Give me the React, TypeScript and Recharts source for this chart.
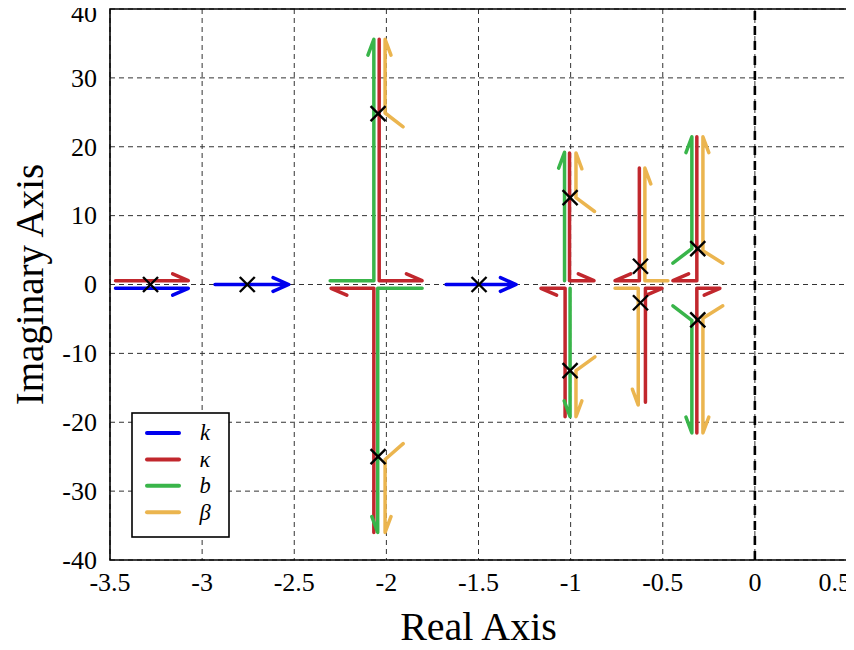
import React from 'react';
import {
  ComposedChart,
  Line,
  Scatter,
  XAxis,
  YAxis,
  CartesianGrid,
  ReferenceLine,
  ReferenceArea,
  Legend,
} from 'recharts';

// ---------- data ----------
const X_TICKS = [-3.5, -3, -2.5, -2, -1.5, -1, -0.5, 0, 0.5];
const Y_TICKS = [-40, -30, -20, -10, 0, 10, 20, 30, 40];

const SERIES_NAMES = ['k', 'κ', 'b', 'β'];
const SERIES_COLORS = ['#0000EE', '#C1272D', '#39B54A', '#EBB54F'];

// each path: list of [real, imag] points (arrow shaft + arrow barbs)
const K_PATHS: number[][][] = [
  [[-3.47, -0.55], [-3.075, -0.55], [-3.16, -1.55]],
  [[-2.93, 0], [-2.53, 0], [-2.615, 1.0], [-2.53, 0], [-2.615, -1.0]],
  [[-1.676, 0], [-1.296, 0], [-1.381, 1.0], [-1.296, 0], [-1.381, -1.0]],
];

const KAPPA_PATHS: number[][][] = [
  [[-3.47, 0.55], [-3.075, 0.55], [-3.16, 1.55]],
  [[-2.039, 35.6], [-2.039, 0.55], [-1.806, 0.55], [-1.891, 1.55]],
  [[-2.068, -36], [-2.068, -0.55], [-2.3, -0.55], [-2.215, -1.55]],
  [[-1.006, 19.1], [-1.006, 0.55], [-0.873, 0.55], [-0.958, 1.55]],
  [[-1.03, -19.2], [-1.03, -0.55], [-1.161, -0.55], [-1.076, -1.55]],
  [[-0.627, 16.9], [-0.627, 0.55], [-0.759, 0.55], [-0.674, 1.55]],
  [[-0.594, -17.1], [-0.594, -0.55], [-0.504, -0.55], [-0.589, -1.55]],
  [[-0.315, 21.45], [-0.315, 0.55], [-0.445, 0.55], [-0.36, 1.55]],
  [[-0.315, -21.55], [-0.315, -0.55], [-0.19, -0.55], [-0.275, -1.55]],
];

const B_PATHS: number[][][] = [
  [[-2.305, 0.55], [-2.068, 0.55], [-2.068, 35.6], [-2.1, 33.3]],
  [[-1.806, -0.55], [-2.047, -0.55], [-2.047, -36], [-2.079, -33.7]],
  [[-1.033, 0.55], [-1.033, 19.2], [-1.065, 16.9]],
  [[-1.003, -0.55], [-1.003, -19.2], [-1.035, -16.9]],
  [[-0.445, 3.1], [-0.342, 5.2], [-0.342, 21.45], [-0.374, 19.15]],
  [[-0.445, -3.1], [-0.342, -5.2], [-0.342, -21.55], [-0.374, -19.25]],
];

const BETA_PATHS: number[][][] = [
  [[-1.909, 22.9], [-2.007, 24.9], [-2.007, 35.6], [-1.975, 33.3]],
  [[-1.909, -23.1], [-2.007, -25.4], [-2.007, -36], [-1.975, -33.7]],
  [[-0.87, 10.6], [-0.971, 12.6], [-0.971, 19.1], [-0.939, 16.8]],
  [[-0.868, -10.5], [-0.971, -12.5], [-0.971, -19.2], [-0.939, -16.9]],
  [[-0.472, 0.55], [-0.597, 0.55], [-0.597, 16.9], [-0.565, 14.6]],
  [[-0.759, -0.55], [-0.633, -0.55], [-0.633, -17.5], [-0.665, -15.2]],
  [[-0.174, 3.1], [-0.282, 4.9], [-0.282, 21.45], [-0.25, 19.15]],
  [[-0.174, -3.1], [-0.282, -4.9], [-0.282, -21.55], [-0.25, -19.25]],
];

const POLES: number[][] = [
  [-3.28, 0],
  [-2.755, 0],
  [-2.045, 24.8],
  [-2.045, -25],
  [-1.497, 0],
  [-1.003, 12.6],
  [-1.003, -12.5],
  [-0.621, 2.65],
  [-0.621, -2.65],
  [-0.31, 5.2],
  [-0.31, -5.15],
];

const ALL_PATHS = [K_PATHS, KAPPA_PATHS, B_PATHS, BETA_PATHS];

const toPts = (p: number[][]) => p.map(([x, y]) => ({ x, y }));

const FONT = 'Liberation Serif';

const XTick = (props: any) => {
  const { x, y, payload } = props;
  const v = payload.value;
  let anchor: 'middle' | 'end' = 'middle';
  let tx = x;
  if (v === 0.5) {
    anchor = 'end';
    tx = 851;
  }
  return (
    <text x={tx} y={y} dy="0.72em" textAnchor={anchor} fontFamily={FONT} fontSize={26} fill="#000">
      {String(v)}
    </text>
  );
};

const YTick = (props: any) => {
  const { x, y, payload } = props;
  const ty = payload.value === 40 ? y + 4 : y;
  return (
    <text x={x} y={ty} dy="0.34em" textAnchor="end" fontFamily={FONT} fontSize={26} fill="#000">
      {String(payload.value)}
    </text>
  );
};

const XMarker = (props: any) => {
  const { cx, cy } = props;
  if (cx == null || cy == null) return <g />;
  const s = 7.5;
  return (
    <g stroke="#000" strokeWidth={2.4}>
      <line x1={cx - s} y1={cy - s} x2={cx + s} y2={cy + s} />
      <line x1={cx - s} y1={cy + s} x2={cx + s} y2={cy - s} />
    </g>
  );
};

const LegendBox = () => (
  <svg width={100} height={127} style={{ display: 'block' }}>
    <rect x={1} y={1} width={97} height={124} fill="#fff" stroke="#000" strokeWidth={1.6} />
    {SERIES_NAMES.map((n, i) => {
      const y = 21 + i * 26.4;
      return (
        <g key={n}>
          <line x1={16} x2={48} y1={y} y2={y} stroke={SERIES_COLORS[i]} strokeWidth={4} strokeLinecap="round" />
          <text
            x={74}
            y={y}
            dy="0.33em"
            textAnchor="middle"
            fontFamily={FONT}
            fontStyle="italic"
            fontSize={22.5}
            fill="#000"
          >
            {n}
          </text>
        </g>
      );
    })}
  </svg>
);

export default function App() {
  return (
    <div style={{ margin: -8, background: '#fff', width: 854, height: 650, fontFamily: FONT }}>
      <ComposedChart
        width={854}
        height={650}
        margin={{ top: 9, right: 7, bottom: 0, left: 0 }}
        style={{ fontFamily: FONT }}
      >
        <CartesianGrid stroke="#333" strokeDasharray="5 4" strokeWidth={1} />
        <XAxis
          type="number"
          dataKey="x"
          domain={[-3.5, 0.5]}
          ticks={X_TICKS}
          allowDataOverflow
          height={90}
          axisLine={false}
          tickLine={false}
          tickMargin={6}
          tick={XTick}
          label={{
            value: 'Real Axis',
            position: 'insideBottom',
            offset: 10,
            style: { fontSize: 40, fill: '#000', fontFamily: FONT },
          }}
        />
        <YAxis
          type="number"
          dataKey="y"
          domain={[-40, 40]}
          ticks={Y_TICKS}
          allowDataOverflow
          width={110}
          axisLine={false}
          tickLine={false}
          tickMargin={7}
          tick={YTick}
          label={{
            value: 'Imaginary Axis',
            angle: -90,
            position: 'insideLeft',
            offset: 29,
            style: { fontSize: 39, fill: '#000', fontFamily: FONT, textAnchor: 'middle' },
          }}
        />
        <ReferenceArea
          x1={-3.5}
          x2={0.5}
          y1={-40}
          y2={40}
          fill="none"
          fillOpacity={0}
          stroke="#000"
          strokeWidth={1.6}
        />
        <ReferenceLine x={0} stroke="#000" strokeWidth={2.6} strokeDasharray="9 6" />
        {ALL_PATHS.map((paths, si) =>
          paths.map((p, pi) => (
            <Line
              key={`s${si}-${pi}`}
              data={toPts(p)}
              dataKey="y"
              type="linear"
              stroke={SERIES_COLORS[si]}
              strokeWidth={3.5}
              strokeLinecap="round"
              strokeLinejoin="round"
              dot={false}
              activeDot={false}
              legendType="none"
              isAnimationActive={false}
            />
          ))
        )}
        <Scatter
          data={toPts(POLES)}
          dataKey="y"
          shape={XMarker}
          legendType="none"
          isAnimationActive={false}
        />
        <Legend
          layout="vertical"
          align="center"
          verticalAlign="middle"
          wrapperStyle={{ left: 131, top: 412, width: 100, height: 127 }}
          content={LegendBox}
        />
      </ComposedChart>
    </div>
  );
}
